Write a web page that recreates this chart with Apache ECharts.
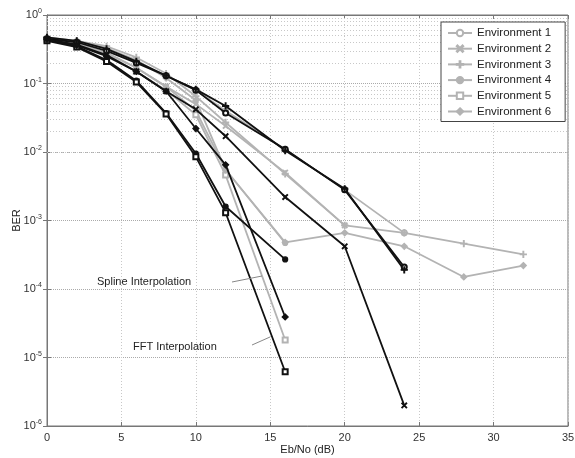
<!DOCTYPE html>
<html>
<head>
<meta charset="utf-8">
<script src="https://cdn.jsdelivr.net/npm/echarts@6/dist/echarts.min.js"></script>
<style>
  html, body { margin: 0; padding: 0; background: #fff; }
  #chart { width: 575px; height: 458px; }
</style>
</head>
<body>
<div id="chart"></div>
<script>
// Eb/No points (dB)
const snr = [0, 2, 4, 6, 8, 10, 12, 16, 20, 24, 28, 32];

// spline interpolation (grey)
const splEnv1 = [0.46, 0.41, 0.32, 0.21, 0.13, 0.08, 0.04, 0.011, 0.0028, 0.00066];
const splEnv2 = [0.45, 0.38, 0.28, 0.17, 0.09, 0.05, 0.024, 0.005, 0.00085];
const splEnv3 = [0.47, 0.42, 0.35, 0.24, 0.14, 0.065, 0.027, 0.0048, 0.00085, 0.00066, 0.00046, 0.00032];
const splEnv4 = [0.45, 0.38, 0.28, 0.17, 0.09, 0.04, 0.0055, 0.00047];
const splEnv5 = [0.44, 0.37, 0.27, 0.15, 0.08, 0.035, 0.0046, 0.000018];
const splEnv6 = [0.46, 0.41, 0.33, 0.22, 0.12, 0.057, 0.0055, 0.00048, 0.00066, 0.00042, 0.00015, 0.00022];

// FFT interpolation (black)
const fftEnv1 = [0.45, 0.40, 0.30, 0.20, 0.13, 0.08, 0.037, 0.011, 0.0028, 0.00021];
const fftEnv2 = [0.44, 0.37, 0.26, 0.15, 0.077, 0.042, 0.017, 0.0022, 0.00042, 0.000002];
const fftEnv3 = [0.47, 0.42, 0.32, 0.21, 0.13, 0.082, 0.047, 0.0105, 0.0029, 0.00019];
const fftEnv4 = [0.43, 0.35, 0.22, 0.11, 0.037, 0.0095, 0.0016, 0.00027];
const fftEnv5 = [0.42, 0.34, 0.21, 0.105, 0.036, 0.0085, 0.0013, 0.0000062];
const fftEnv6 = [0.44, 0.36, 0.25, 0.15, 0.077, 0.022, 0.0065, 0.000039];

const envNames = ['Environment 1', 'Environment 2', 'Environment 3', 'Environment 4', 'Environment 5', 'Environment 6'];
const yTicks = [1e-6, 1e-5, 1e-4, 1e-3, 1e-2, 1e-1, 1];

const xMark = 'path://M1,0L5,4L9,0L10,1L6,5L10,9L9,10L5,6L1,10L0,9L4,5L0,1Z';
const plusMark = 'path://M4.4,0H5.6V4.4H10V5.6H5.6V10H4.4V5.6H0V4.4H4.4Z';
const markers = ['emptyCircle', xMark, plusMark, 'circle', 'emptyRect', 'diamond'];
const markerSize = [5, 5, 6, 5, 5, 6];

const GREY = '#b3b3b3';
const BLACK = '#111';

const pts = vals => vals.map((v, i) => [snr[i], v]);

const makeLine = (name, vals, i, color, z) => ({
  name,
  type: 'line',
  data: pts(vals),
  symbol: markers[i],
  symbolSize: markerSize[i],
  z,
  lineStyle: {color, width: 1.8},
  itemStyle: {color, borderColor: color, borderWidth: 1.2},
  emphasis: {disabled: true},
  animation: false
});

const splSets = [splEnv1, splEnv2, splEnv3, splEnv4, splEnv5, splEnv6];
const fftSets = [fftEnv1, fftEnv2, fftEnv3, fftEnv4, fftEnv5, fftEnv6];

// minor log grid lines (2..9 per decade)
const minorLines = [];
for (let e = -6; e < 0; e++) {
  for (let m = 2; m <= 9; m++) minorLines.push({yAxis: m * Math.pow(10, e)});
}

const series = [
  {
    name: 'grid',
    type: 'line',
    data: [],
    silent: true,
    z: 1,
    markLine: {
      silent: true,
      z: 1,
      symbol: ['none', 'none'],
      label: {show: false},
      animation: false,
      lineStyle: {color: '#c8c8c8', type: [1, 2], width: 1},
      data: minorLines
    }
  }
];
splSets.forEach((s, i) => series.push(makeLine(envNames[i], s, i, GREY, 3)));
fftSets.forEach((s, i) => series.push(makeLine(envNames[i] + ' FFT', s, i, BLACK, 4)));

const chart = echarts.init(document.getElementById('chart'));

const option = {
  backgroundColor: '#fff',
  animation: false,
  textStyle: {fontFamily: 'Liberation Sans, Arial, sans-serif'},
  grid: {
    left: 47, right: 7, top: 15, bottom: 32,
    outerBoundsMode: 'none',
    show: true, backgroundColor: '#fff', borderColor: '#777', borderWidth: 1
  },
  legend: {
    data: envNames,
    z: 20,
    orient: 'vertical',
    left: 441,
    top: 22,
    padding: [5, 14, 4, 6],
    itemGap: 3.7,
    itemWidth: 24,
    itemHeight: 8,
    backgroundColor: '#fff',
    borderColor: '#444',
    borderWidth: 1,
    borderRadius: 0,
    textStyle: {color: '#222', fontSize: 11.5, fontFamily: 'Liberation Sans, Arial, sans-serif'}
  },
  xAxis: [
    {
      type: 'value',
      min: 0,
      max: 35,
      interval: 5,
      name: 'Eb/No (dB)',
      nameLocation: 'middle',
      nameGap: 18,
      nameMoveOverlap: false,
      nameTextStyle: {color: '#222', fontSize: 11},
      axisLine: {show: true, lineStyle: {color: '#777'}},
      axisTick: {inside: true, length: 4, lineStyle: {color: '#777'}},
      axisLabel: {color: '#333', fontSize: 11, margin: 6},
      splitLine: {show: true, lineStyle: {color: '#c8c8c8', type: [1, 2]}}
    },
    {
      type: 'value',
      position: 'top',
      min: 0,
      max: 35,
      interval: 5,
      axisLine: {show: true, lineStyle: {color: '#777'}},
      axisTick: {inside: true, length: 4, lineStyle: {color: '#777'}},
      axisLabel: {show: false},
      splitLine: {show: false}
    }
  ],
  yAxis: [
    {
      type: 'log',
      logBase: 10,
      min: 1e-6,
      max: 1,
      name: 'BER',
      nameLocation: 'middle',
      nameGap: 25,
      nameMoveOverlap: false,
      nameTextStyle: {color: '#222', fontSize: 11},
      axisLine: {show: true, lineStyle: {color: '#777'}},
      axisTick: {inside: true, length: 4, lineStyle: {color: '#777'}},
      axisLabel: {
        color: '#333',
        margin: 5,
        formatter: v => {
          const e = Math.round(Math.log10(v));
          return yTicks.indexOf(Math.pow(10, e)) >= 0 ? '{b|10}{s|' + e + '}' : '';
        },
        rich: {
          b: {fontSize: 11, color: '#333'},
          s: {fontSize: 7, color: '#333', padding: [0, 0, 7, 0]}
        }
      },
      splitLine: {show: true, lineStyle: {color: '#aaa', type: [1, 1]}}
    },
    {
      type: 'log',
      logBase: 10,
      min: 1e-6,
      max: 1,
      position: 'right',
      axisLine: {show: true, lineStyle: {color: '#777'}},
      axisTick: {inside: true, length: 4, lineStyle: {color: '#777'}},
      axisLabel: {show: false},
      splitLine: {show: false}
    }
  ],
  series
};

chart.setOption(option);

// annotations pointing at the two groups of curves
chart.setOption({
  graphic: [
    {type: 'text', left: 97, top: 276, style: {text: 'Spline Interpolation', fill: '#222', fontSize: 11, fontFamily: 'Liberation Sans, Arial, sans-serif'}, z: 10},
    {type: 'line', shape: {x1: 232, y1: 282, x2: 262, y2: 276}, style: {stroke: '#888', lineWidth: 1}, z: 10},
    {type: 'text', left: 133, top: 341, style: {text: 'FFT Interpolation', fill: '#222', fontSize: 11, fontFamily: 'Liberation Sans, Arial, sans-serif'}, z: 10},
    {type: 'line', shape: {x1: 252, y1: 345, x2: 270, y2: 337}, style: {stroke: '#888', lineWidth: 1}, z: 10}
  ]
});
</script>
</body>
</html>
